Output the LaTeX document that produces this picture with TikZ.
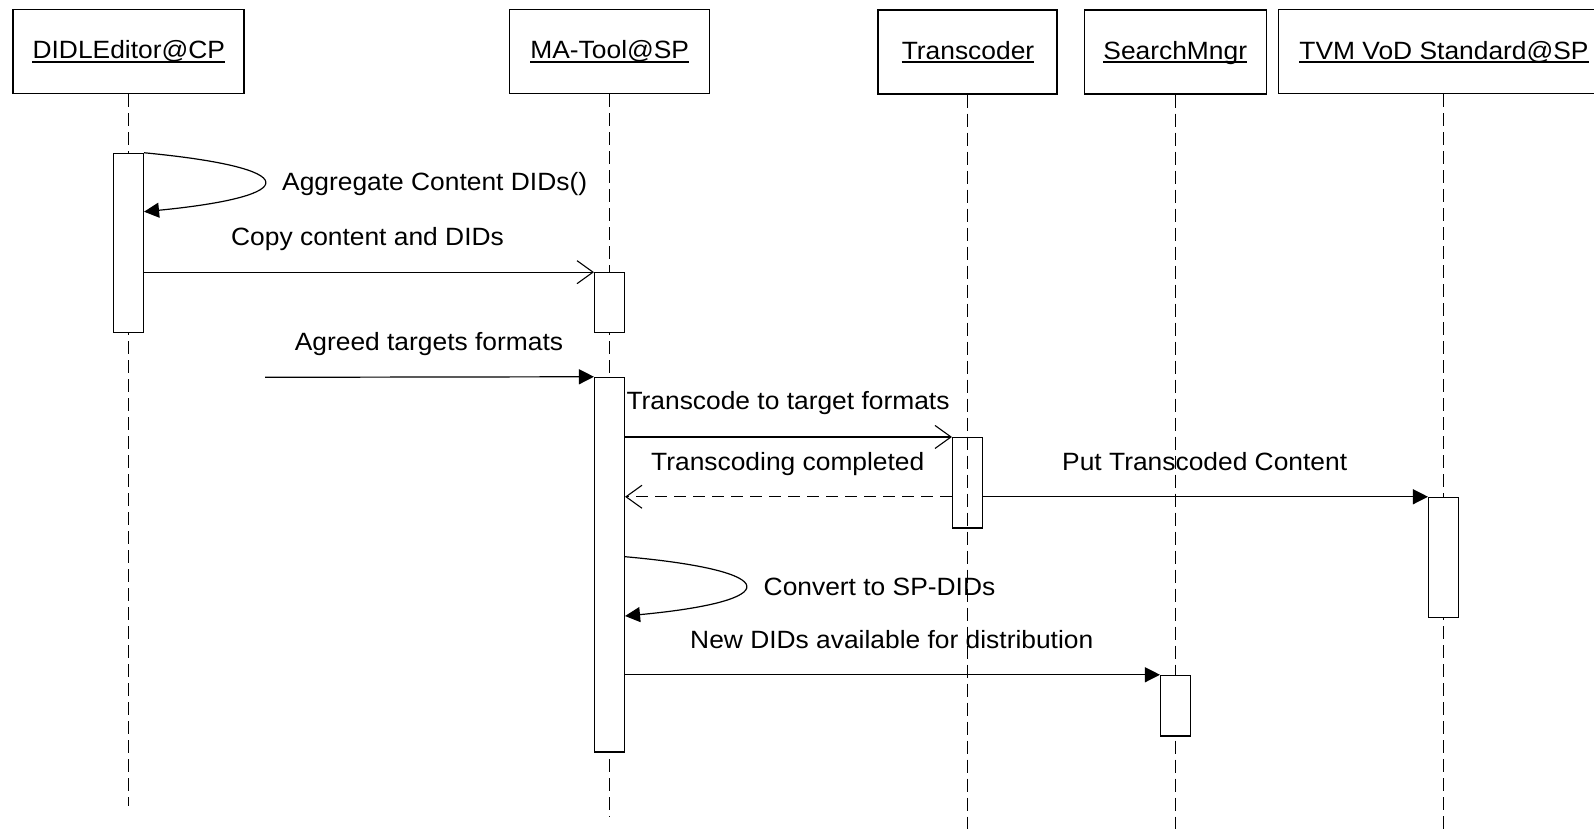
\documentclass[tikz,border=0pt]{standalone}
\usepackage{fontspec}
\setmainfont{Liberation Sans}[FakeStretch=1.055]
\usetikzlibrary{arrows.meta}
\begin{document}
\begin{tikzpicture}[x=1pt,y=-1pt,
  lifebox/.style={draw, line width=1.2pt, inner sep=0pt},
  actbox/.style={draw, fill=white, line width=1.1pt, minimum width=30pt, inner sep=0pt},
  lifeline/.style={line width=1pt, dash pattern=on 13pt off 6pt},
  msg/.style={line width=1.2pt},
  sync/.style={msg, -{Triangle[length=15pt,width=15pt]}},
  async/.style={msg, -{Straight Barb[length=16pt,width=23pt,line width=1.1pt]}},
  reply/.style={async, dash pattern=on 12pt off 7pt},
  txt/.style={inner sep=0pt, anchor=base west, font=\fontsize{25}{30}\selectfont},
  title/.style={inner sep=0pt, anchor=base, font=\fontsize{25}{30}\selectfont},
  uline/.style={line width=1.8pt}
]
\fill[white] (0,0) rectangle (1594,828);
\clip (0,0) rectangle (1594,828);

% participant heads
\node[lifebox, minimum width=231pt, minimum height=84pt] (pD) at (128.5,51.5) {};
\node[lifebox, minimum width=200pt, minimum height=84pt] (pM) at (609.5,51.5) {};
\node[lifebox, minimum width=179pt, minimum height=84pt] (pT) at (967.5,52) {};
\node[lifebox, minimum width=182pt, minimum height=84pt] (pS) at (1175.5,52) {};
\node[lifebox, minimum width=330pt, minimum height=84pt] (pV) at (1443.5,51.5) {};

\node[title] (tD) at (128.8,58.6) {DIDLEditor@CP};
\node[title] (tM) at (609.7,58.6) {MA-Tool@SP};
\node[title] (tT) at (968,59) {Transcoder};
\node[title] (tS) at (1175.25,59) {SearchMngr};
\node[title] (tV) at (1444,59) {TVM VoD Standard@SP};
\foreach \t in {tD,tM,tT,tS,tV}
  \draw[uline] ([yshift=-3pt]\t.base west) -- ([yshift=-3pt]\t.base east);

% lifelines
\draw[lifeline] (pD.south) -- (pD.south |- 0,805.7);
\draw[lifeline] (pM.south) -- (pM.south |- 0,816.7);
\draw[lifeline] (pT.south) -- (pT.south |- 0,830);
\draw[lifeline] (pS.south) -- (pS.south |- 0,830);
\draw[lifeline] (pV.south) -- (pV.south |- 0,830);

% activation bars
\node[actbox, minimum height=179pt] (aD) at (128.5,242.8) {};
\node[actbox, minimum height=59.6pt] (aM1) at (609.5,302.5) {};
\node[actbox, minimum height=374.7pt] (aM2) at (609.5,564.65) {};
\node[actbox, fill=none, minimum height=90.5pt] (aT) at (967.5,482.75) {};
\node[actbox, minimum height=120.4pt] (aV) at (1443.5,557.5) {};
\node[actbox, minimum height=60.7pt] (aS) at (1175.5,705.65) {};

% messages
\draw[sync] (aD.north east) .. controls (304,168) and (304,196) .. (aD.east |- 0,211.7);
\node[txt] (l1) at (282,190.7) {Aggregate Content DIDs()};

\draw[async] (aD.east |- aM1.north) -- (aM1.north west);
\node[txt] (l2) at (231,245) {Copy content and DIDs};

\coordinate (gate) at (265,377.3);
\draw[sync] (gate) -- (aM2.north west);
\node[txt] (l3) at (294.6,350) {Agreed targets formats};

\draw[async] (aM2.east |- aT.north) -- (aT.north west);
\node[txt] (l4) at (626.3,409.3) {Transcode to target formats};

\draw[reply] (aT.west |- aV.north) -- (aM2.east |- aV.north);
\node[txt] (l5) at (651,470) {Transcoding completed};

\draw[sync] (aT.east |- aV.north) -- (aV.north west);
\node[txt] (l6) at (1062,470) {Put Transcoded Content};

\draw[sync] (aM2.east |- 0,556.7) .. controls (785,571) and (785,601) .. (aM2.east |- 0,616);
\node[txt] (l7) at (763.5,595) {Convert to SP-DIDs};

\draw[sync] (aM2.east |- aS.north) -- (aS.north west);
\node[txt] (l8) at (690,648.3) {New DIDs available for distribution};
\end{tikzpicture}
\end{document}
